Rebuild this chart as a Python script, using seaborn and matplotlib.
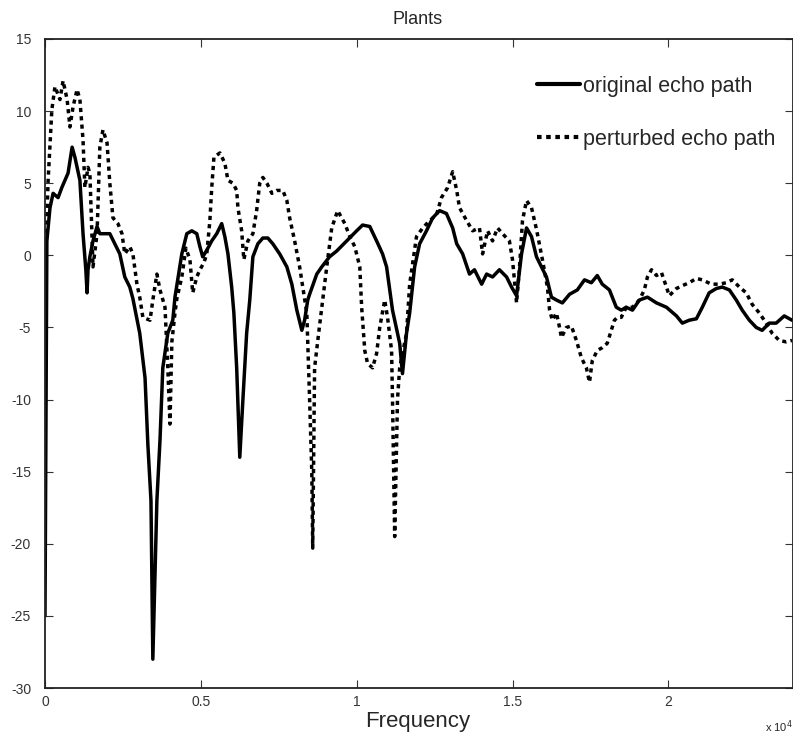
import matplotlib
matplotlib.use("Agg")
import matplotlib.pyplot as plt
import seaborn as sns
import pandas as pd
from matplotlib.lines import Line2D
from matplotlib.ticker import FixedLocator, FixedFormatter

# ---------------- data (frequency in units of 10^4 Hz, magnitude) ----------------
orig_freq = [0.000, 0.006, 0.016, 0.026, 0.042, 0.054, 0.064, 0.074, 0.087, 0.096,
             0.112, 0.122, 0.131, 0.135, 0.138, 0.144, 0.154, 0.167, 0.176, 0.192,
             0.208, 0.224, 0.240, 0.256, 0.272, 0.282, 0.304, 0.321, 0.330, 0.340,
             0.346, 0.353, 0.359, 0.369, 0.378, 0.394, 0.410, 0.417, 0.439, 0.455,
             0.471, 0.487, 0.497, 0.506, 0.519, 0.535, 0.551, 0.567, 0.577, 0.587,
             0.599, 0.606, 0.615, 0.625, 0.635, 0.647, 0.657, 0.667, 0.683, 0.699,
             0.715, 0.731, 0.753, 0.776, 0.792, 0.808, 0.824, 0.833, 0.843, 0.849,
             0.872, 0.888, 0.913, 0.936, 0.968, 1.000, 1.019, 1.042, 1.064, 1.083,
             1.096, 1.115, 1.138, 1.147, 1.160, 1.170, 1.186, 1.202, 1.224, 1.244,
             1.266, 1.288, 1.308, 1.321, 1.340, 1.362, 1.378, 1.401, 1.417, 1.436,
             1.458, 1.481, 1.497, 1.513, 1.529, 1.545, 1.561, 1.577, 1.609, 1.625,
             1.641, 1.660, 1.683, 1.708, 1.731, 1.753, 1.772, 1.788, 1.811, 1.833,
             1.849, 1.865, 1.885, 1.907, 1.933, 1.962, 1.994, 2.026, 2.045, 2.067,
             2.090, 2.109, 2.131, 2.154, 2.173, 2.196, 2.218, 2.237, 2.260, 2.282,
             2.301, 2.324, 2.346, 2.372, 2.397]
orig_mag = [-25.0, 1.0, 3.3, 4.3, 4.0, 4.7, 5.2, 5.7, 7.5, 6.8,
            5.2, 1.5, -1.0, -2.6, -1.0, -0.1, 1.0, 2.0, 1.5, 1.5,
            1.5, 0.8, 0.1, -1.5, -2.2, -3.0, -5.4, -8.5, -13.1, -17.0,
            -28.0, -22.0, -17.0, -12.8, -7.8, -5.4, -4.5, -2.9, 0.1, 1.5,
            1.7, 1.5, 0.6, -0.1, 0.35, 1.0, 1.5, 2.2, 1.3, 0.1,
            -2.2, -4.0, -7.8, -14.0, -10.0, -5.4, -3.1, -0.1, 0.8, 1.2,
            1.2, 0.8, 0.1, -0.8, -2.0, -3.8, -5.2, -4.5, -3.1, -2.7,
            -1.3, -0.8, -0.1, 0.3, 1.0, 1.7, 2.1, 2.0, 1.0, 0.1,
            -0.8, -3.8, -6.1, -8.2, -5.4, -4.0, -0.8, 0.8, 1.7, 2.6,
            3.1, 2.9, 1.9, 0.8, 0.1, -1.3, -1.0, -2.0, -1.3, -1.5,
            -1.0, -1.5, -2.2, -2.8, 0.1, 1.9, 1.3, -0.1, -1.5, -2.9,
            -3.1, -3.3, -2.7, -2.4, -1.7, -1.9, -1.4, -2.0, -2.4, -3.6,
            -3.8, -3.6, -3.8, -3.1, -2.9, -3.3, -3.6, -4.2, -4.7, -4.5,
            -4.4, -3.6, -2.6, -2.3, -2.2, -2.4, -3.1, -3.8, -4.5, -5.0,
            -5.2, -4.7, -4.7, -4.2, -4.5]

pert_freq = [0.000, 0.003, 0.006, 0.010, 0.022, 0.032, 0.048, 0.058, 0.071, 0.080,
             0.090, 0.103, 0.112, 0.122, 0.128, 0.138, 0.144, 0.154, 0.167, 0.176,
             0.186, 0.199, 0.208, 0.218, 0.234, 0.247, 0.256, 0.272, 0.282, 0.295,
             0.304, 0.314, 0.337, 0.346, 0.359, 0.369, 0.385, 0.394, 0.401, 0.407,
             0.417, 0.423, 0.439, 0.452, 0.465, 0.474, 0.487, 0.497, 0.510, 0.519,
             0.529, 0.535, 0.542, 0.561, 0.577, 0.587, 0.603, 0.615, 0.619, 0.631,
             0.638, 0.651, 0.667, 0.679, 0.689, 0.699, 0.712, 0.728, 0.744, 0.763,
             0.776, 0.785, 0.801, 0.817, 0.827, 0.840, 0.849, 0.856, 0.859, 0.865,
             0.878, 0.891, 0.904, 0.920, 0.939, 0.962, 0.978, 0.994, 1.010, 1.016,
             1.026, 1.035, 1.051, 1.064, 1.074, 1.090, 1.099, 1.112, 1.115, 1.122,
             1.131, 1.138, 1.160, 1.170, 1.192, 1.212, 1.234, 1.256, 1.272, 1.292,
             1.308, 1.321, 1.330, 1.353, 1.372, 1.394, 1.404, 1.420, 1.436, 1.452,
             1.468, 1.490, 1.500, 1.513, 1.522, 1.532, 1.545, 1.561, 1.577, 1.596,
             1.612, 1.619, 1.628, 1.641, 1.651, 1.657, 1.673, 1.689, 1.705, 1.721,
             1.737, 1.747, 1.756, 1.772, 1.788, 1.804, 1.817, 1.827, 1.837, 1.849,
             1.865, 1.885, 1.907, 1.923, 1.933, 1.946, 1.962, 1.978, 1.994, 2.003,
             2.026, 2.045, 2.067, 2.090, 2.109, 2.138, 2.163, 2.186, 2.205, 2.228,
             2.250, 2.269, 2.292, 2.314, 2.333, 2.356, 2.378, 2.397]
pert_mag = [-10.0, 0.0, 2.6, 5.2, 10.1, 11.7, 10.8, 12.1, 10.8, 8.9,
            10.3, 11.5, 10.8, 8.0, 4.7, 6.1, 5.7, -0.8, 1.5, 7.5,
            8.7, 7.8, 5.0, 2.6, 2.2, 1.5, 0.1, 0.6, 0.1, -2.0,
            -2.9, -4.3, -4.5, -3.1, -1.3, -2.4, -3.6, -7.8, -11.7, -6.0,
            -4.0, -3.0, -1.5, 0.5, -0.3, -2.6, -1.5, -1.0, -0.5, 0.1,
            2.4, 4.7, 6.8, 7.1, 6.4, 5.2, 5.0, 4.5, 3.3, 1.7,
            -0.3, 1.0, 1.5, 3.1, 5.0, 5.4, 5.0, 4.3, 4.5, 4.5,
            3.8, 2.6, 1.0, -0.8, -2.2, -4.0, -10.0, -15.0, -20.3, -7.8,
            -5.4, -3.1, -0.8, 1.9, 3.1, 2.2, 1.3, 0.6, -0.8, -3.6,
            -6.6, -7.5, -7.8, -6.8, -5.0, -3.1, -4.3, -6.6, -10.0, -19.5,
            -10.0, -7.8, -5.4, -2.0, 1.3, 1.9, 2.4, 2.8, 4.0, 4.7,
            5.8, 4.5, 3.3, 2.4, 1.7, 1.9, 0.1, 1.7, 1.0, 1.9,
            1.5, 1.0, -0.3, -3.3, -1.0, 2.4, 3.8, 3.3, 1.8, -0.3,
            -2.2, -3.8, -4.5, -4.0, -5.0, -5.7, -5.0, -4.9, -5.9, -7.1,
            -7.8, -8.8, -7.3, -6.6, -6.4, -6.1, -5.2, -4.5, -4.3, -4.3,
            -3.6, -3.6, -3.1, -2.4, -1.5, -1.0, -1.4, -1.2, -2.2, -2.8,
            -2.3, -2.1, -1.9, -1.6, -1.7, -2.0, -2.0, -1.9, -1.7, -2.2,
            -2.6, -3.4, -4.0, -4.7, -5.4, -5.9, -6.0, -5.9]

series_labels = ["original echo path", "perturbed echo path"]
x_ticks = [0, 0.5, 1, 1.5, 2]
x_tick_labels = ["0", "0.5", "1", "1.5", "2"]
y_ticks = [-30, -25, -20, -15, -10, -5, 0, 5, 10, 15]
title_text = "Plants"
xlabel_text = "Frequency"

# ---------------- plotting ----------------
sns.set_style("ticks")
plt.rcParams["font.family"] = ["Liberation Sans", "DejaVu Sans"]
plt.rcParams["axes.unicode_minus"] = False

fig = plt.figure(figsize=(7.93, 7.36), dpi=100)
ax = fig.add_axes([45 / 793, 48 / 736, 1 - 45 / 793, (688 - 39) / 736])

df_o = pd.DataFrame({"freq": orig_freq, "mag": orig_mag})
df_p = pd.DataFrame({"freq": pert_freq, "mag": pert_mag})

lw = 2.5
sns.lineplot(data=df_p, x="freq", y="mag", ax=ax, color="black", lw=lw,
             estimator=None, sort=False, dashes=False)
ax.lines[-1].set_dashes((1.2, 1.2))
ax.lines[-1].set_dash_capstyle("butt")
sns.lineplot(data=df_o, x="freq", y="mag", ax=ax, color="black", lw=lw,
             estimator=None, sort=False)

ax.set_xlim(0, 2.4)
ax.set_ylim(-30, 15)
ax.xaxis.set_major_locator(FixedLocator(x_ticks))
ax.xaxis.set_major_formatter(FixedFormatter(x_tick_labels))
ax.set_yticks(y_ticks)
ax.tick_params(direction="in", length=5.5, width=0.8, top=True, right=True,
               labelsize=10, labelcolor="#333333", colors="#333333")
ax.tick_params(axis="x", pad=5)
ax.tick_params(axis="y", pad=10)
for s in ax.spines.values():
    s.set_linewidth(1.3)
    s.set_color("#222222")
    s.set_visible(True)

ax.set_xlabel("")
ax.set_ylabel("")
fig.text(418 / 793, 1 - 20 / 736, title_text, ha="center", va="center", fontsize=13)
fig.text(418 / 793, 1 - 721 / 736, xlabel_text, ha="center", va="center", fontsize=16)
fig.text(765 / 793, 1 - 727 / 736, "x 10$^{4}$", ha="left", va="center", fontsize=8)

handles = [Line2D([], [], color="black", lw=3),
           Line2D([], [], color="black", lw=3, dashes=(1.1, 1.1))]
leg = ax.legend(handles, series_labels, loc="upper left",
                bbox_to_anchor=(537 / 793, 1 - 76 / 736), bbox_transform=fig.transFigure,
                frameon=False, fontsize=15.5, handlelength=2.0, handletextpad=0.15,
                labelspacing=1.47, borderpad=0, borderaxespad=0)

fig.savefig("out.png", dpi=100)
